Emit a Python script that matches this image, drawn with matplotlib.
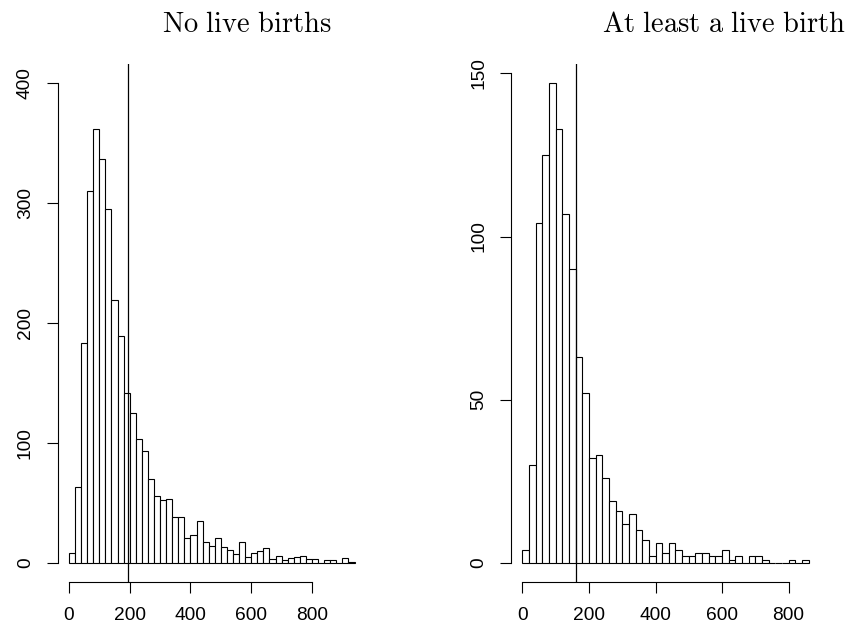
import numpy as np
import matplotlib
matplotlib.use("Agg")
import matplotlib.pyplot as plt

plt.rcParams['mathtext.fontset'] = 'cm'
plt.rcParams['font.family'] = ['Liberation Sans', 'DejaVu Sans']

# Comptes par classe de largeur 20 (a partir de 0)
bin_width = 20
counts_none = [8, 63, 183, 310, 362, 337, 295, 219, 189, 142, 125, 103, 93, 70,
               56, 52, 53, 38, 38, 21, 23, 35, 17, 14, 21, 13, 11, 7, 17, 5,
               8, 10, 12, 3, 6, 2, 4, 5, 6, 3, 3, 0, 2, 2, 0, 4, 1]
counts_birth = [4, 30, 104, 125, 147, 133, 107, 90, 63, 52, 32, 33, 26, 19, 16,
                12, 15, 10, 7, 2, 6, 3, 6, 4, 2, 2, 3, 3, 2, 2, 4, 1, 2, 0,
                2, 2, 1, 0, 0, 0, 1, 0, 1]
vline_none = 194
vline_birth = 161
titles = [r'$\mathrm{No\ live\ births}$', r'$\mathrm{At\ least\ a\ live\ birth}$']
xticks = [0, 200, 400, 600, 800]
yticks_none = [0, 100, 200, 300, 400]
yticks_birth = [0, 50, 100, 150]

W, H = 854, 623
fig = plt.figure(figsize=(W / 100, H / 100), dpi=100)


def panel(left_px, right_px, counts, vline, yticks, ytop):
    ax = fig.add_axes([left_px / W, 1 - 582 / H, (right_px - left_px) / W, (582 - 64) / H])
    edges = np.arange(len(counts)) * bin_width
    ax.bar(edges, counts, width=bin_width, align='edge', color='white',
           edgecolor='black', linewidth=0.8)
    ax.axvline(vline, color='black', linewidth=0.9)
    # limites facon R : etendue + 4%
    xmax = len(counts) * bin_width
    ax.set_xlim(-0.04 * xmax, 1.04 * xmax)
    ax.set_ylim(-0.04 * ytop, 1.04 * ytop)
    ax.set_xticks(xticks)
    ax.set_yticks(yticks)
    ax.spines['top'].set_visible(False)
    ax.spines['right'].set_visible(False)
    ax.spines['bottom'].set_bounds(xticks[0], xticks[-1])
    ax.spines['left'].set_bounds(yticks[0], yticks[-1])
    for s in ('bottom', 'left'):
        ax.spines[s].set_linewidth(0.8)
    ax.tick_params(direction='out', length=8, width=0.8, labelsize=13.8, pad=9)
    ax.tick_params(axis='x', pad=10)
    for lab in ax.get_yticklabels():
        lab.set_rotation(90)
        lab.set_va('center')
    return ax


ax1 = panel(57.5, 366, counts_none, vline_none, yticks_none, 400)
ax2 = panel(511, 820, counts_birth, vline_birth, yticks_birth, max(counts_birth))

fig.text(247 / W, 1 - 32.5 / H, titles[0], fontsize=20.5, ha='center', va='baseline')
fig.text(724 / W, 1 - 32.5 / H, titles[1], fontsize=20.5, ha='center', va='baseline')

plt.savefig('out.png', dpi=100)
plt.close()
